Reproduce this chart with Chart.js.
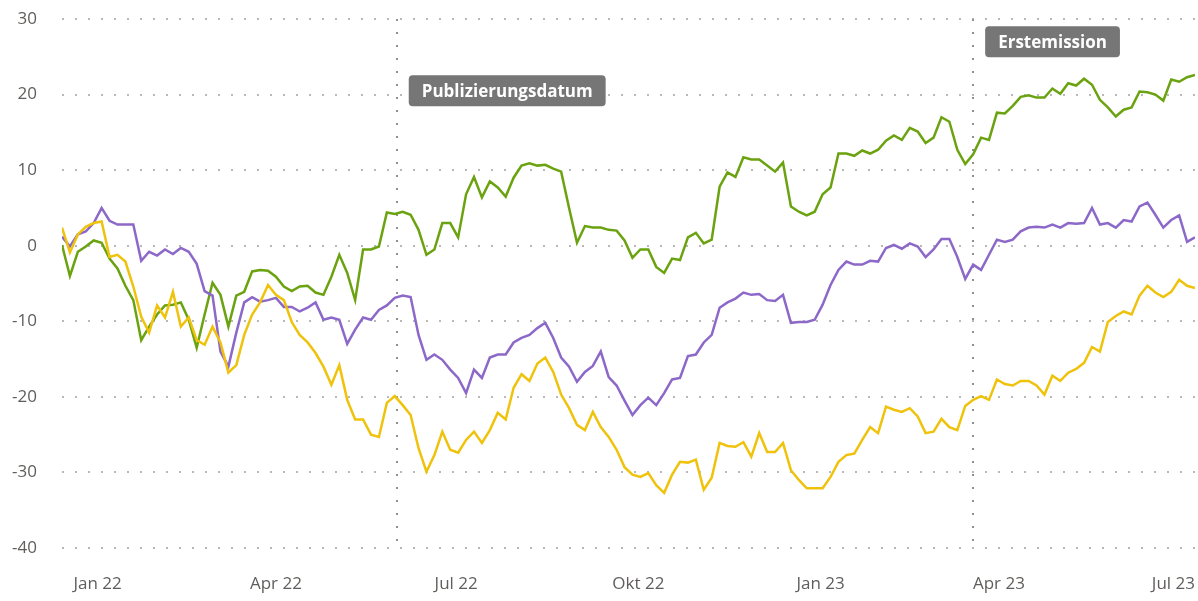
<!DOCTYPE html>
<html><head><meta charset="utf-8">
<script src="https://cdn.jsdelivr.net/npm/chart.js@4.4.0/dist/chart.umd.min.js"></script>
<style>html,body{margin:0;padding:0;background:#fff;}#wrap{width:1198px;height:601px;position:relative;}</style>
</head><body><div id="wrap"><canvas id="c"></canvas></div>
<script>
// x = days since 1 Jan 2022, one sample every 4 days
const startDay = -18;
const stepDays = 4;
const green = [0.1,-4.0,-0.8,-0.1,0.7,0.4,-1.7,-3.0,-5.3,-7.2,
-12.5,-10.7,-9.1,-7.9,-7.8,-7.5,-9.8,-13.5,-9.1,-4.9,
-6.5,-10.7,-6.6,-6.1,-3.4,-3.2,-3.3,-4.1,-5.4,-6.0,
-5.4,-5.3,-6.2,-6.5,-4.1,-1.2,-3.6,-7.2,-0.5,-0.5,
-0.1,4.4,4.2,4.5,4.1,2.1,-1.2,-0.5,3.0,3.0,
1.1,6.8,9.1,6.4,8.5,7.7,6.5,9.0,10.6,10.9,
10.6,10.7,10.2,9.8,5.0,0.4,2.6,2.4,2.4,2.1,
2.0,0.7,-1.6,-0.5,-0.5,-2.8,-3.6,-1.7,-1.9,1.1,
1.7,0.3,0.8,7.8,9.7,9.1,11.7,11.4,11.4,10.6,
9.8,11.0,5.2,4.5,4.0,4.5,6.8,7.7,12.2,12.2,
11.9,12.6,12.2,12.7,13.9,14.6,14.0,15.6,15.1,13.6,
14.3,17.0,16.4,12.7,10.8,12.1,14.3,14.0,17.6,17.5,
18.5,19.7,19.9,19.6,19.6,20.8,20.1,21.5,21.2,22.1,
21.3,19.3,18.3,17.1,18.0,18.3,20.4,20.3,20.0,19.2,
22.0,21.7,22.3,22.6];
const purple = [1.2,-0.1,1.5,1.9,3.0,5.0,3.3,2.8,2.8,2.8,
-2.0,-0.8,-1.3,-0.5,-1.1,-0.3,-0.8,-2.4,-6.0,-6.6,
-14.0,-16.0,-11.5,-7.5,-6.8,-7.4,-7.2,-6.9,-8.1,-8.1,
-8.7,-8.2,-7.5,-9.8,-9.5,-9.8,-13.0,-11.1,-9.5,-9.8,
-8.5,-7.9,-6.9,-6.6,-6.8,-11.8,-15.1,-14.4,-15.1,-16.4,
-17.5,-19.5,-16.4,-17.5,-14.8,-14.4,-14.4,-12.8,-12.2,-11.8,
-10.9,-10.2,-12.2,-14.8,-16.0,-18.0,-16.7,-15.9,-14.0,-17.4,
-18.5,-20.5,-22.4,-21.1,-20.1,-21.1,-19.5,-17.7,-17.5,-14.6,
-14.4,-12.8,-11.8,-8.2,-7.5,-7.0,-6.2,-6.5,-6.4,-7.2,
-7.3,-6.5,-10.2,-10.1,-10.1,-9.8,-7.8,-5.2,-3.2,-2.1,
-2.5,-2.5,-2.0,-2.1,-0.3,0.1,-0.4,0.3,-0.1,-1.5,
-0.5,0.9,0.9,-1.5,-4.4,-2.5,-3.2,-1.2,0.8,0.5,
0.8,1.9,2.4,2.5,2.4,2.8,2.4,3.0,2.9,3.0,
5.0,2.8,3.0,2.4,3.4,3.2,5.2,5.7,4.1,2.4,
3.4,4.0,0.5,1.1];
const yellow = [2.4,-0.9,1.5,2.5,3.0,3.2,-1.5,-1.2,-2.1,-5.4,
-9.4,-11.5,-7.9,-9.5,-6.1,-10.7,-9.5,-12.5,-13.1,-10.7,
-12.8,-16.8,-15.8,-11.8,-9.1,-7.5,-5.2,-6.5,-7.2,-10.1,
-11.8,-12.8,-14.2,-16.0,-18.4,-15.8,-20.4,-23.0,-23.0,-25.0,
-25.3,-20.8,-19.9,-21.1,-22.4,-26.8,-29.9,-27.7,-24.6,-27.0,
-27.4,-25.7,-24.6,-26.1,-24.4,-22.1,-23.0,-18.8,-17.0,-17.9,
-15.6,-14.8,-16.7,-19.7,-21.5,-23.7,-24.4,-22.0,-24.0,-25.3,
-27.0,-29.3,-30.3,-30.6,-30.1,-31.7,-32.7,-30.3,-28.6,-28.7,
-28.3,-32.3,-30.7,-26.1,-26.5,-26.6,-26.0,-27.9,-24.8,-27.3,
-27.3,-26.1,-29.7,-31.0,-32.1,-32.1,-32.1,-30.6,-28.6,-27.7,
-27.5,-25.7,-24.0,-24.8,-21.3,-21.7,-22.0,-21.5,-22.6,-24.8,
-24.6,-22.9,-24.0,-24.4,-21.2,-20.4,-19.9,-20.4,-17.7,-18.3,
-18.5,-17.9,-17.9,-18.5,-19.7,-17.2,-17.9,-16.8,-16.3,-15.5,
-13.4,-14.0,-10.1,-9.3,-8.7,-9.1,-6.6,-5.3,-6.2,-6.8,
-6.1,-4.5,-5.3,-5.6];
const tickDays = [-18, 0, 90, 181, 273, 365, 455, 554];
const tickLabels = ['', 'Jan 22', 'Apr 22', 'Jul 22', 'Okt 22', 'Jan 23', 'Apr 23', 'Jul 23'];
const markerDays = [151, 442];
const markerLabels = ['Publizierungsdatum', 'Erstemission'];
const markerLevels = [20.5, 27];

const pts = vals => vals.map((v, i) => ({x: startDay + i * stepDays, y: v}));
const FONT = '"Open Sans", "Noto Sans", sans-serif';
const TICK_COLOR = '#605e5c';

const markerPlugin = {
  id: 'markers',
  beforeDatasetsDraw(chart) {
    const {ctx, chartArea, scales} = chart;
    ctx.save();
    ctx.strokeStyle = '#8f8f8f';
    ctx.lineWidth = 2;
    ctx.setLineDash([2, 11]);
    markerDays.forEach(d => {
      const px = Math.round(scales.x.getPixelForValue(d));
      ctx.beginPath();
      ctx.moveTo(px, chartArea.top);
      ctx.lineTo(px, chartArea.bottom + 4);
      ctx.stroke();
    });
    ctx.restore();
  },
  afterDatasetsDraw(chart) {
    const {ctx, scales} = chart;
    ctx.save();
    ctx.font = 'bold 17px ' + FONT;
    markerDays.forEach((d, i) => {
      const px = scales.x.getPixelForValue(d);
      const py = scales.y.getPixelForValue(markerLevels[i]);
      const w = ctx.measureText(markerLabels[i]).width + 26;
      const h = 31;
      const bx = px + 12, by = py - h / 2;
      ctx.fillStyle = '#767676';
      ctx.beginPath();
      ctx.roundRect(bx, by, w, h, 4);
      ctx.fill();
      ctx.fillStyle = '#ffffff';
      ctx.textBaseline = 'middle';
      ctx.textAlign = 'left';
      ctx.fillText(markerLabels[i], bx + 13, py + 1);
    });
    ctx.restore();
  }
};

const ds = (label, data, color) => ({
  label, data: pts(data), borderColor: color, backgroundColor: color,
  borderWidth: 2.5, pointRadius: 0, tension: 0, fill: false
});

new Chart(document.getElementById('c'), {
  type: 'line',
  data: {
    datasets: [
      ds('Gelb', yellow, '#efc20c'),
      ds('Lila', purple, '#8c68c8'),
      ds('Grün', green, '#6aa30f')
    ]
  },
  options: {
    responsive: true,
    maintainAspectRatio: false,
    animation: false,
    layout: {padding: {top: 19, right: 3, left: 0, bottom: 0}},
    plugins: {legend: {display: false}, tooltip: {enabled: false}},
    scales: {
      x: {
        type: 'linear',
        min: startDay,
        max: startDay + (green.length - 1) * stepDays,
        grid: {display: false, drawTicks: false},
        border: {display: false},
        afterBuildTicks: s => { s.ticks = tickDays.map(v => ({value: v})); },
        afterFit: s => { s.height = 53; s.paddingLeft = 0; s.paddingRight = 0; },
        ticks: {
          autoSkip: false, maxRotation: 0, align: 'inner', padding: 26,
          color: TICK_COLOR, font: {family: FONT, size: 17},
          callback: (v) => { const k = tickDays.indexOf(v); return k >= 0 ? tickLabels[k] : ''; }
        }
      },
      y: {
        min: -40, max: 30,
        afterFit: s => { s.width = 62; s.paddingTop = 0; s.paddingBottom = 0; },
        grid: {color: '#b8b8b8', lineWidth: 2, drawTicks: false},
        border: {display: false, dash: [2, 11]},
        ticks: {stepSize: 10, padding: 25, color: TICK_COLOR, font: {family: FONT, size: 17}}
      }
    }
  },
  plugins: [markerPlugin]
});
</script>
</body></html>
